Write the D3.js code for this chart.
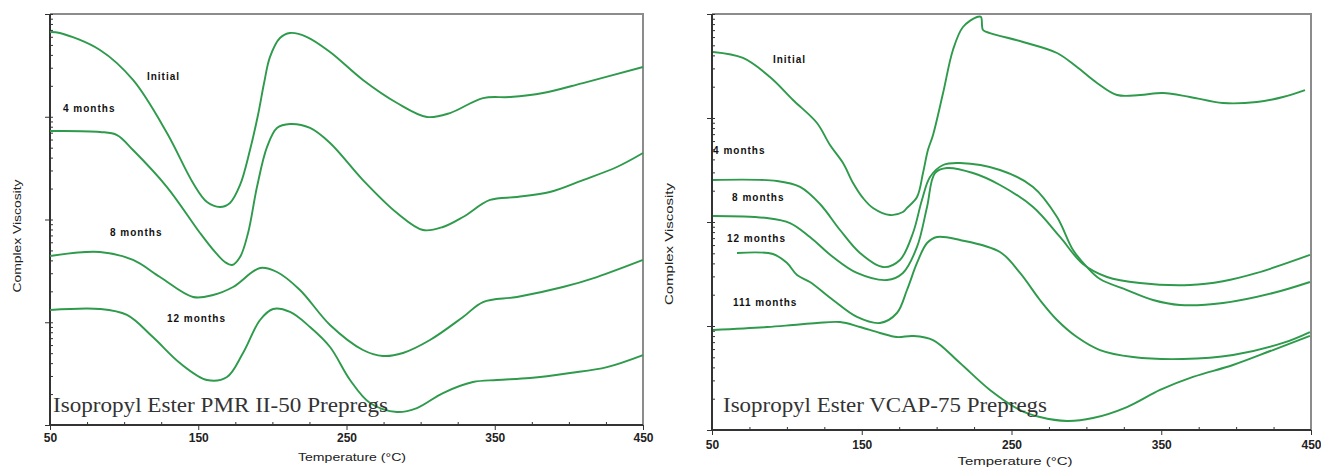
<!DOCTYPE html>
<html>
<head>
<meta charset="utf-8">
<script src="https://cdn.jsdelivr.net/npm/d3@7"></script>
<style>
  body { margin: 0; background: #fff; }
  svg { display: block; }
</style>
</head>
<body>
<svg id="chart" width="1321" height="467"></svg>
<script>
// [temperature °C, log10 complex viscosity] (decades only, no units on the axis)
const pmrInitial = [[50,3.825],[56.7,3.815],[83.7,3.650],[106,3.358],[128.9,2.842],[146.5,2.355],[155.9,2.170],[164.7,2.122],[171.4,2.161],[178.2,2.336],[184.9,2.676],[190.3,3.017],[194.4,3.328],[198.4,3.582],[205.1,3.766],[211.9,3.815],[223.4,3.776],[238.9,3.630],[261.1,3.358],[284.1,3.134],[304.3,2.998],[319.8,3.036],[342.1,3.182],[360.3,3.192],[382.5,3.231],[409.5,3.328],[450,3.484]];
const pmr4 = [[50,2.861],[83.7,2.852],[95.2,2.822],[106,2.676],[128.9,2.316],[151.2,1.869],[161.3,1.684],[168,1.586],[172.8,1.557],[178.2,1.635],[183.6,1.869],[189.6,2.316],[196.4,2.706],[203.1,2.891],[211.9,2.929],[225.4,2.891],[238.9,2.745],[261.1,2.384],[284.1,2.063],[301.6,1.898],[315.1,1.927],[328.6,2.024],[346.8,2.190],[365,2.219],[387.2,2.268],[409.5,2.384],[432.4,2.511],[450,2.647]];
const pmr8 = [[50,1.645],[83.7,1.684],[106,1.606],[124.2,1.440],[146.5,1.246],[160,1.265],[173.5,1.343],[191.7,1.528],[203.1,1.489],[218.6,1.314],[238.9,0.973],[261.1,0.730],[274.6,0.672],[288.1,0.701],[306.3,0.827],[328.6,1.051],[342.1,1.197],[365,1.246],[396,1.343],[418.9,1.440],[450,1.606]];
const pmr12 = [[50,1.119],[83.7,1.129],[101.9,1.071],[119.4,0.856],[137.6,0.603],[155.9,0.438],[169.4,0.467],[180.2,0.701],[191.7,1.022],[200.5,1.129],[211.9,1.100],[225.4,0.954],[238.9,0.759],[252.4,0.438],[265.9,0.214],[284.1,0.127],[297.5,0.165],[315.1,0.311],[335.3,0.418],[351.5,0.438],[373.8,0.457],[400.8,0.506],[425.7,0.564],[450,0.681]];

const vcapInitial = [[50.7,3.635],[70.7,3.577],[88.7,3.394],[104.1,3.173],[120.1,2.952],[128.8,2.740],[137.5,2.567],[144.2,2.375],[150.8,2.231],[157.5,2.135],[168.9,2.067],[177.5,2.096],[180.2,2.135],[186.9,2.240],[190.9,2.471],[194.2,2.692],[197.6,2.837],[204.3,3.240],[210.9,3.654],[217.6,3.875],[227,3.971],[229.6,3.971],[231,3.846],[235.6,3.817],[257.7,3.731],[280.4,3.625],[293.7,3.490],[307.1,3.337],[320.5,3.221],[335.8,3.221],[351.2,3.240],[369.2,3.202],[391.2,3.144],[413.9,3.154],[431.3,3.202],[446,3.269]];
const vcap4 = [[50.7,2.404],[93.4,2.394],[108.8,2.337],[122.1,2.173],[135.5,1.923],[148.8,1.702],[164.2,1.567],[175.5,1.635],[184.2,1.894],[190.2,2.212],[195.6,2.433],[204.3,2.548],[215.6,2.567],[242.3,2.500],[264.4,2.337],[280.4,2.048],[291.1,1.731],[300.4,1.567],[309.1,1.452],[327.1,1.346],[344.5,1.250],[362.5,1.202],[391.2,1.221],[424.6,1.317],[449.3,1.423]];
const vcap8 = [[50.7,2.058],[86.7,2.038],[102.1,1.990],[115.4,1.856],[130.8,1.663],[146.8,1.510],[166.9,1.442],[177.5,1.510],[186.9,1.760],[193.6,2.144],[198.9,2.471],[206.9,2.519],[224.3,2.471],[242.3,2.356],[264.4,2.144],[282.4,1.856],[297.7,1.596],[313.8,1.471],[335.8,1.413],[369.2,1.394],[391.2,1.430],[413.9,1.510],[449.3,1.683]];
const vcap12 = [[66.7,1.702],[90.7,1.692],[100.1,1.606],[106.8,1.490],[115.4,1.423],[130.8,1.250],[146.8,1.087],[162.2,1.029],[173.5,1.125],[180.2,1.346],[186.9,1.606],[193.6,1.798],[200.3,1.856],[215.6,1.827],[242.3,1.712],[255.7,1.510],[269,1.250],[280.4,1.058],[293.7,0.894],[309.1,0.769],[331.1,0.702],[364.5,0.683],[397.9,0.721],[431.3,0.837],[449.3,0.942]];
const vcap111 = [[50.7,0.962],[86.7,0.990],[104.1,1.010],[120.1,1.029],[135.5,1.038],[148.8,0.990],[162.2,0.933],[173.5,0.894],[184.2,0.904],[197.6,0.865],[215.6,0.644],[235.6,0.385],[255.7,0.192],[269,0.125],[287.1,0.087],[304.4,0.115],[327.1,0.221],[349.2,0.385],[371.2,0.510],[397.9,0.625],[424.6,0.769],[449.3,0.904]];

// curve labels: [text, temperature, log10 viscosity at baseline]
const pmrLabels = [["Initial",115.4,3.358],["4 months",58.8,3.046],["8 months",90.5,1.839],["12 months",128.9,1.002]];
const vcapLabels = [["Initial",90.7,3.529],["4 months",50.7,2.654],["8 months",63.4,2.202],["12 months",60,1.808],["111 months",64,1.192]];

const tempDomain = [50, 450];
const tempTicks = [50, 150, 250, 350, 450];
const tempMinor = d3.range(75, 450, 25).filter(t => !tempTicks.includes(t));
const viscDomain = [1, 1e4];

const xTitle = "Temperature (°C)";
const yTitle = "Complex Viscosity";

const panels = [
    { title: "Isopropyl Ester PMR II-50 Prepregs", series: [pmrInitial, pmr4, pmr8, pmr12], labels: pmrLabels,
      left: 50, right: 643, top: 14, bottom: 425, tickPad: 3,
      titleX: 53, titleY: 412, titleW: 335,
      xTitleX: 352, xTitleY: 461, xTitleW: 108,
      yTitleX: 21, yTitleY: 236, yTitleW: 113 },
    { title: "Isopropyl Ester VCAP-75 Prepregs", series: [vcapInitial, vcap4, vcap8, vcap12, vcap111], labels: vcapLabels,
      left: 712, right: 1311, top: 14, bottom: 430, tickPad: 5,
      titleX: 723, titleY: 412, titleW: 324,
      xTitleX: 1015, xTitleY: 465, xTitleW: 115,
      yTitleX: 673, yTitleY: 244, yTitleW: 122 }
];

const green = "#2e9a4b";
const svg = d3.select("#chart");

panels.forEach(drawPanel);

function drawPanel(p) {
    const x = d3.scaleLinear().domain(tempDomain).range([p.left, p.right]);
    const y = d3.scaleLog().domain(viscDomain).range([p.bottom, p.top]);
    const g = svg.append("g");

    // grey frame on top and right
    g.append("path")
        .attr("d", `M${p.left},${p.top}H${p.right}V${p.bottom}`)
        .attr("fill", "none")
        .attr("stroke", "#8c8c8c")
        .attr("stroke-width", 2);

    // y axis: decade ticks outside, all log ticks inside
    const decades = y.ticks().filter(d => Math.abs(Math.log10(d) % 1) < 1e-9);
    g.append("g")
        .attr("transform", `translate(${p.left},0)`)
        .call(d3.axisLeft(y).tickValues(decades).tickSize(5).tickSizeOuter(0).tickFormat(""))
        .call(a => a.select(".domain").remove());
    g.append("g")
        .attr("transform", `translate(${p.left},0)`)
        .call(d3.axisRight(y).tickValues(y.ticks()).tickSize(3).tickSizeOuter(0).tickFormat(""))
        .call(a => a.select(".domain").remove());

    // x axis
    g.append("g")
        .attr("transform", `translate(0,${p.bottom})`)
        .call(d3.axisBottom(x).tickValues(tempMinor).tickSize(-3).tickSizeOuter(0).tickFormat(""))
        .call(a => a.select(".domain").remove());
    const xAxis = g.append("g")
        .attr("transform", `translate(0,${p.bottom})`)
        .call(d3.axisBottom(x).tickValues(tempTicks).tickSize(5).tickPadding(p.tickPad).tickSizeOuter(0).tickFormat(d3.format("d")))
        .call(a => a.select(".domain").remove());
    xAxis.selectAll("text")
        .style("font-family", "'Liberation Sans Narrow', 'Liberation Sans', Arial, sans-serif")
        .style("font-weight", "bold")
        .style("font-size", "12px")
        .attr("fill", "#222");

    g.selectAll(".tick line").attr("stroke", "#333");

    // dark left & bottom axis lines
    g.append("path")
        .attr("d", `M${p.left},${p.top}V${p.bottom}H${p.right}`)
        .attr("fill", "none")
        .attr("stroke", "#333")
        .attr("stroke-width", 2);

    // curves (centripetal Catmull-Rom keeps the rheometer traces smooth without loops)
    const line = d3.line()
        .x(d => x(d[0]))
        .y(d => y(Math.pow(10, d[1])))
        .curve(d3.curveCatmullRom.alpha(0.5));

    g.selectAll(".curve")
        .data(p.series)
        .join("path")
        .attr("class", "curve")
        .attr("d", line)
        .attr("fill", "none")
        .attr("stroke", green)
        .attr("stroke-width", 1.9);

    // curve labels
    g.selectAll(".curve-label")
        .data(p.labels)
        .join("text")
        .attr("class", "curve-label")
        .attr("x", d => x(d[1]))
        .attr("y", d => y(Math.pow(10, d[2])))
        .text(d => d[0])
        .style("font-family", "'Liberation Sans Narrow', 'Liberation Sans', Arial, sans-serif")
        .style("font-weight", "bold")
        .style("font-size", "10px")
        .style("letter-spacing", "1px")
        .attr("fill", "#111");

    // panel title inside the plot
    g.append("text")
        .attr("x", p.titleX)
        .attr("y", p.titleY)
        .attr("textLength", p.titleW)
        .attr("lengthAdjust", "spacingAndGlyphs")
        .text(p.title)
        .style("font-family", "'Liberation Serif', 'DejaVu Serif', serif")
        .style("font-size", "21px")
        .attr("fill", "#333");

    // axis titles
    g.append("text")
        .attr("x", p.xTitleX)
        .attr("y", p.xTitleY)
        .attr("text-anchor", "middle")
        .attr("textLength", p.xTitleW)
        .attr("lengthAdjust", "spacingAndGlyphs")
        .text(xTitle)
        .style("font-family", "'Liberation Sans', Arial, sans-serif")
        .style("font-size", "11px")
        .attr("fill", "#222");

    g.append("text")
        .attr("transform", `translate(${p.yTitleX},${p.yTitleY}) rotate(-90)`)
        .attr("text-anchor", "middle")
        .attr("textLength", p.yTitleW)
        .attr("lengthAdjust", "spacingAndGlyphs")
        .text(yTitle)
        .style("font-family", "'Liberation Sans', Arial, sans-serif")
        .style("font-size", "11px")
        .attr("fill", "#222");
}
</script>
</body>
</html>
